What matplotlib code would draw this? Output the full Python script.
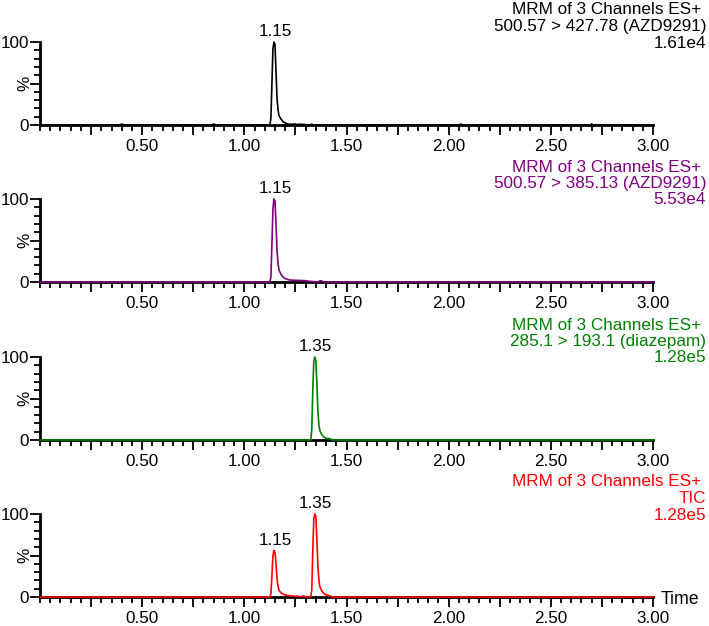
import matplotlib.pyplot as plt
from matplotlib.ticker import MultipleLocator, FixedLocator, FuncFormatter

plt.rcParams["font.family"] = ["Liberation Sans", "DejaVu Sans"]

# retention time (min) / relative intensity (%) for each MRM trace
t_427 = [0.0, 0.39, 0.40, 0.41, 0.84, 0.85, 0.86, 1.12, 1.125, 1.13, 1.135, 1.14, 1.145,
         1.15, 1.155, 1.16, 1.165, 1.17, 1.18, 1.19, 1.20, 1.21, 1.22, 1.25, 1.26, 1.27,
         1.32, 1.33, 1.34, 2.05, 2.06, 2.07, 2.69, 2.70, 2.71, 3.0]
y_427 = [0, 0, 1.2, 0, 0, 1.2, 0, 0, 0, 8, 50, 92, 100,
         97, 65, 32, 18, 11, 7, 4, 2.5, 1.5, 0.8, 1.2, 0.5, 1.0,
         0, 1.0, 0, 0, 1.2, 0, 0, 1.2, 0, 0]

t_385 = [0.0, 1.12, 1.125, 1.13, 1.135, 1.14, 1.145, 1.15, 1.155, 1.16, 1.165, 1.17,
         1.18, 1.19, 1.20, 1.22, 1.25, 1.28, 1.30, 1.32, 1.36, 1.37, 1.38, 1.39, 3.0]
y_385 = [0, 0, 0, 6, 45, 88, 100, 98, 70, 38, 22, 14,
         9, 6, 4, 2.5, 2, 1.8, 1.5, 0.8, 0, 1.5, 1.2, 0, 0]

t_193 = [0.0, 1.32, 1.325, 1.33, 1.335, 1.34, 1.345, 1.35, 1.355, 1.36, 1.365, 1.37,
         1.38, 1.39, 1.40, 1.42, 1.43, 3.0]
y_193 = [0, 0, 0, 12, 60, 95, 100, 96, 68, 35, 18, 11,
         6, 3.5, 2, 1.5, 0, 0]

t_tic = [0.0, 1.12, 1.125, 1.13, 1.135, 1.14, 1.145, 1.15, 1.155, 1.16, 1.165, 1.17,
         1.18, 1.19, 1.20, 1.22, 1.24, 1.25, 1.26, 1.27, 1.28, 1.29, 1.30, 1.32, 1.325,
         1.33, 1.335, 1.34, 1.345, 1.35, 1.355, 1.36, 1.365, 1.37, 1.38, 1.39, 1.40,
         1.42, 1.43, 3.0]
y_tic = [0, 0, 0, 4, 25, 50, 56, 54, 40, 22, 13, 8,
         5, 3.5, 2.5, 1.5, 1.2, 0.5, 1.2, 0.3, 0.5, 1.2, 0, 0, 0,
         8, 55, 94, 100, 97, 70, 38, 20, 12, 7, 4, 2.5,
         1.5, 0, 0]

traces = [
    (t_427, y_427, "black", ["MRM of 3 Channels ES+ ", "500.57 > 427.78 (AZD9291)", "1.61e4"], [(1.15, 100)]),
    (t_385, y_385, "#800080", ["MRM of 3 Channels ES+ ", "500.57 > 385.13 (AZD9291)", "5.53e4"], [(1.15, 100)]),
    (t_193, y_193, "#008000", ["MRM of 3 Channels ES+ ", "285.1 > 193.1 (diazepam)", "1.28e5"], [(1.35, 100)]),
    (t_tic, y_tic, "#ff0000", ["MRM of 3 Channels ES+ ", "TIC", "1.28e5"], [(1.15, 56), (1.35, 100)]),
]

W, H = 709, 626
fig = plt.figure(figsize=(W / 100, H / 100), dpi=100)

tops = [42, 199, 357, 514]
left_px, right_px, ax_h = 40, 653, 83
fs = 12.3

for i, (t, y, color, header, peaks) in enumerate(traces):
    top = tops[i]
    ax = fig.add_axes([left_px / W, 1 - (top + ax_h) / H, (right_px - left_px) / W, ax_h / H])
    ax.plot(t, y, color=color, lw=1.2, clip_on=False, zorder=5)
    ax.set_xlim(0, 3.0)
    ax.set_ylim(0, 100)

    for side in ["top", "right"]:
        ax.spines[side].set_visible(False)
    for side in ["left", "bottom"]:
        ax.spines[side].set_linewidth(2)

    ax.xaxis.set_major_locator(FixedLocator([0.25 * k for k in range(1, 13)]))
    ax.xaxis.set_minor_locator(MultipleLocator(0.05))
    ax.xaxis.set_major_formatter(FuncFormatter(
        lambda v, p: f"{v:.2f}" if abs(v * 2 - round(v * 2)) < 1e-6 else ""))
    ax.yaxis.set_major_locator(FixedLocator([0, 50, 100]))
    ax.yaxis.set_minor_locator(MultipleLocator(10))
    ax.yaxis.set_major_formatter(FuncFormatter(lambda v, p: "" if v == 50 else f"{v:.0f}"))

    ax.tick_params(axis="x", which="major", length=7, width=1.3, labelsize=fs, pad=3)
    ax.tick_params(axis="x", which="minor", length=4, width=1.3)
    ax.tick_params(axis="y", which="major", length=7, width=1.3, labelsize=fs, pad=1)
    ax.tick_params(axis="y", which="minor", length=4, width=1.3)

    ax.text(-0.024, 0.5, "%", transform=ax.transAxes, rotation=90,
            ha="center", va="center", fontsize=fs)

    for px, py in peaks:
        ax.annotate(f"{px:.2f}", xy=(px, py), xytext=(0, 2), textcoords="offset points",
                    ha="center", va="bottom", fontsize=fs, annotation_clip=False)

    for j, line in enumerate(header):
        fig.text(706 / W, 1 - (top - 32 + 16.5 * j) / H, line, color=color,
                 ha="right", va="center", fontsize=fs)

    if i == len(traces) - 1:
        fig.text(661 / W, 1 - 599 / H, "Time", ha="left", va="center", fontsize=fs + 0.5)

fig.savefig("out.png", dpi=100)
